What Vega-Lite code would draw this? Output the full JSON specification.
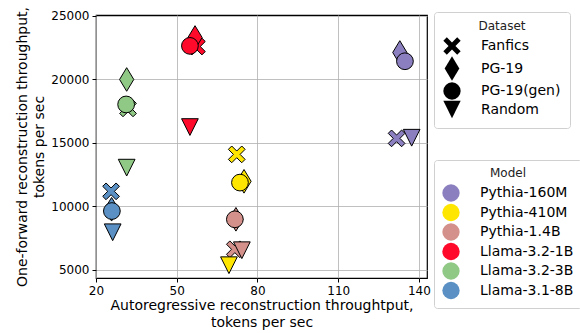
{
  "$schema": "https://vega.github.io/schema/vega-lite/v6.json",
  "autosize": "none",
  "width": 331,
  "height": 263,
  "padding": {"left": 96, "top": 15, "right": 153, "bottom": 55},
  "background": "white",
  "data": {
    "values": [
      {"model": "Pythia-160M", "dataset": "Fanfics", "ar": 131.7, "of": 15340},
      {"model": "Pythia-410M", "dataset": "Fanfics", "ar": 72.3, "of": 14080},
      {"model": "Pythia-1.4B", "dataset": "Fanfics", "ar": 71.6, "of": 6610},
      {"model": "Llama-3.2-1B", "dataset": "Fanfics", "ar": 57.5, "of": 22570},
      {"model": "Llama-3.2-3B", "dataset": "Fanfics", "ar": 31.9, "of": 17700},
      {"model": "Llama-3.1-8B", "dataset": "Fanfics", "ar": 25.6, "of": 11170},
      {"model": "Pythia-160M", "dataset": "PG-19", "ar": 132.9, "of": 22100},
      {"model": "Pythia-410M", "dataset": "PG-19", "ar": 75.0, "of": 11960},
      {"model": "Pythia-1.4B", "dataset": "PG-19", "ar": 72.0, "of": 8970},
      {"model": "Llama-3.2-1B", "dataset": "PG-19", "ar": 56.8, "of": 23280},
      {"model": "Llama-3.2-3B", "dataset": "PG-19", "ar": 31.4, "of": 19975},
      {"model": "Llama-3.1-8B", "dataset": "PG-19", "ar": 25.8, "of": 9760},
      {"model": "Pythia-160M", "dataset": "PG-19(gen)", "ar": 134.8, "of": 21410},
      {"model": "Pythia-410M", "dataset": "PG-19(gen)", "ar": 73.5, "of": 11860},
      {"model": "Pythia-1.4B", "dataset": "PG-19(gen)", "ar": 71.6, "of": 8970},
      {"model": "Llama-3.2-1B", "dataset": "PG-19(gen)", "ar": 54.9, "of": 22620},
      {"model": "Llama-3.2-3B", "dataset": "PG-19(gen)", "ar": 31.2, "of": 18010},
      {"model": "Llama-3.1-8B", "dataset": "PG-19(gen)", "ar": 25.9, "of": 9620},
      {"model": "Pythia-160M", "dataset": "Random", "ar": 137.3, "of": 15390},
      {"model": "Pythia-410M", "dataset": "Random", "ar": 69.4, "of": 5355},
      {"model": "Pythia-1.4B", "dataset": "Random", "ar": 74.2, "of": 6535},
      {"model": "Llama-3.2-1B", "dataset": "Random", "ar": 54.9, "of": 16230},
      {"model": "Llama-3.2-3B", "dataset": "Random", "ar": 31.4, "of": 13035},
      {"model": "Llama-3.1-8B", "dataset": "Random", "ar": 26.2, "of": 7950}
    ]
  },
  "mark": {"type": "point", "filled": true, "size": 280, "stroke": "black", "strokeWidth": 1, "opacity": 1},
  "encoding": {
    "x": {
      "field": "ar", "type": "quantitative",
      "scale": {"domain": [20, 143], "nice": false, "zero": false},
      "axis": {"values": [20, 50, 80, 110, 140], "title": ["Autoregressive reconstruction throughtput,", "tokens per sec"]}
    },
    "y": {
      "field": "of", "type": "quantitative",
      "scale": {"domain": [4350, 25050], "nice": false, "zero": false},
      "axis": {"values": [5000, 10000, 15000, 20000, 25000], "format": "d", "title": ["One-forward reconstruction throughput,", "tokens per sec"]}
    },
    "fill": {
      "field": "model", "type": "nominal",
      "scale": {
        "domain": ["Pythia-160M", "Pythia-410M", "Pythia-1.4B", "Llama-3.2-1B", "Llama-3.2-3B", "Llama-3.1-8B"],
        "range": ["#8b7fbf", "#ffe600", "#d4908a", "#ff0a2a", "#90c886", "#5a90c4"]
      },
      "legend": {
        "title": "Model", "orient": "none", "legendX": 338, "legendY": 145,
        "symbolType": "circle", "symbolStrokeWidth": 0, "symbolOpacity": 1,
        "rowPadding": 1.5
      }
    },
    "shape": {
      "field": "dataset", "type": "nominal",
      "scale": {
        "domain": ["Fanfics", "PG-19", "PG-19(gen)", "Random"],
        "range": [
          "M-1,-0.6 L-0.6,-1 L0,-0.4 L0.6,-1 L1,-0.6 L0.4,0 L1,0.6 L0.6,1 L0,0.4 L-0.6,1 L-1,0.6 L-0.4,0 Z",
          "M0,-1.41 L0.85,0 L0,1.41 L-0.85,0 Z",
          "circle",
          "M-1,-1 L1,-1 L0,1 Z"
        ]
      },
      "legend": {
        "title": "Dataset", "orient": "none", "legendX": 338, "legendY": -3,
        "symbolFillColor": "black", "symbolStrokeColor": "black", "symbolStrokeWidth": 0, "symbolOpacity": 1,
        "rowPadding": 0.5, "padding": 9
      }
    },
    "order": {"field": "dataset", "sort": "ascending"}
  },
  "config": {
    "font": "DejaVu Sans",
    "view": {"stroke": "black", "strokeWidth": 1.2},
    "axis": {
      "gridColor": "#b0b0b0", "gridWidth": 0.8, "gridOpacity": 1,
      "domain": false,
      "tickColor": "black", "tickSize": 4, "tickWidth": 1,
      "labelFont": "DejaVu Sans", "labelFontSize": 12, "labelColor": "black", "labelPadding": 3,
      "titleFont": "DejaVu Sans", "titleFontSize": 14, "titleFontWeight": "normal", "titleColor": "black",
      "titleLineHeight": 17
    },
    "axisX": {"titlePadding": 2, "labelFlush": false},
    "axisY": {"titlePadding": 4},
    "legend": {
      "fillColor": "white", "strokeColor": "#d0d0d0", "cornerRadius": 3, "padding": 8,
      "symbolSize": 300, "labelFont": "DejaVu Sans", "labelFontSize": 14, "labelColor": "black",
      "titleFont": "DejaVu Sans", "titleFontSize": 12, "titleFontWeight": "normal", "titleColor": "#222",
      "titleAnchor": "middle", "titlePadding": 4, "labelOffset": 20, "rowPadding": 4
    }
  }
}
